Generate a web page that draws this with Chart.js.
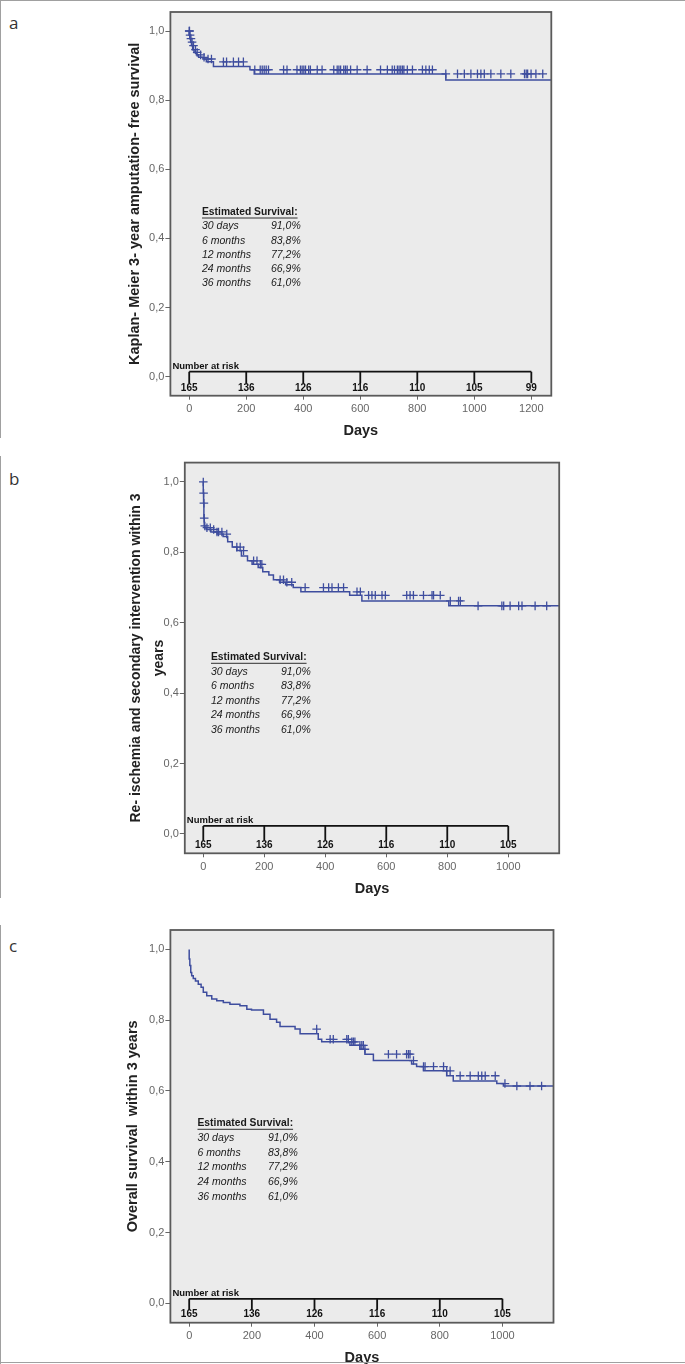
<!DOCTYPE html>
<html>
<head>
<meta charset="utf-8">
<script src="https://cdn.jsdelivr.net/npm/chart.js@4.4.1/dist/chart.umd.min.js"></script>
<style>
  body { margin:0; background:#fff; width:685px; height:1364px; position:relative; overflow:hidden; }
  canvas { position:absolute; left:0; }
  .lbl { position:absolute; left:9px; font-family:'Open Sans',sans-serif; font-size:17px; line-height:20px; color:#333; }
  .bl { position:absolute; background:#a0a0a0; z-index:5; }
</style>
</head>
<body>
<div class="bl" style="left:0;top:0;width:685px;height:1px"></div>
<div class="bl" style="left:0;top:0;width:1px;height:438px"></div>
<div class="bl" style="left:0;top:456px;width:1px;height:442px"></div>
<div class="bl" style="left:0;top:925px;width:1px;height:439px"></div>
<div class="bl" style="left:0;top:1362px;width:685px;height:1px"></div>
<div class="lbl" style="top:13px">a</div>
<div class="lbl" style="top:469px">b</div>
<div class="lbl" style="top:936px">c</div>
<canvas id="chartA"></canvas>
<canvas id="chartB"></canvas>
<canvas id="chartC"></canvas>
<script>
// panel a: amputation-free survival
const aDays = [0, 2, 5, 8, 12, 17, 25, 33, 48, 60, 85, 213, 228, 900, 1262];
const aSurv = [1.0, 0.988, 0.978, 0.968, 0.958, 0.946, 0.938, 0.931, 0.924, 0.919, 0.911, 0.897, 0.888, 0.876, 0.858];
const aEnd = 1270;
const aCensor = [0, 1, 3, 6, 10, 15, 22, 28, 40, 52, 66, 78, 120, 131, 155, 173, 190, 230, 249, 256, 263, 270, 278,
  331, 343, 378, 390, 396, 402, 408, 419, 425, 449, 466, 507, 519, 525, 531, 542, 548, 554, 566, 589, 624, 671, 695,
  712, 720, 730, 736, 742, 748, 753, 765, 783, 818, 830, 842, 853, 900, 941, 965, 988, 1011, 1023, 1035, 1058, 1093,
  1128, 1176, 1182, 1187, 1199, 1216, 1240];

// panel b: re-ischemia / secondary intervention
const bDays = [0, 1, 2, 3, 5, 10, 25, 45, 65, 80, 95, 110, 125, 145, 160, 180, 195, 215, 230, 250, 270, 295, 320, 480, 520, 805, 845];
const bSurv = [1.0, 0.968, 0.94, 0.897, 0.875, 0.870, 0.865, 0.858, 0.852, 0.845, 0.830, 0.815, 0.805, 0.790, 0.776, 0.766,
  0.757, 0.745, 0.736, 0.722, 0.715, 0.708, 0.700, 0.688, 0.678, 0.662, 0.648];
const bEnd = 1167;
const bCensor = [0, 1, 2, 3, 5, 12, 23, 34, 45, 50, 61, 77, 110, 121, 132, 165, 176, 187, 192, 252, 263, 274, 290, 334,
  394, 411, 422, 443, 460, 504, 515, 542, 553, 564, 586, 597, 667, 678, 689, 722, 750, 755, 777, 810, 837, 843, 901,
  979, 985, 1006, 1034, 1045, 1088, 1126];

// panel c: overall survival
const cDays = [0, 2, 5, 8, 13, 20, 29, 38, 45, 56, 72, 88, 109, 130, 162, 184, 199, 237, 258, 279, 290, 338, 354, 412,
  423, 513, 545, 561, 588, 710, 726, 748, 822, 843, 982, 1003, 1035];
const cSurv = [1.0, 0.973, 0.955, 0.935, 0.926, 0.918, 0.911, 0.902, 0.893, 0.879, 0.869, 0.860, 0.855, 0.850, 0.845,
  0.841, 0.831, 0.829, 0.817, 0.803, 0.794, 0.782, 0.775, 0.762, 0.746, 0.739, 0.729, 0.718, 0.704, 0.686, 0.676, 0.669,
  0.657, 0.643, 0.628, 0.621, 0.614];
const cEnd = 1163;
const cCensor = [407, 450, 460, 503, 508, 519, 524, 529, 545, 551, 556, 561, 636, 662, 694, 700, 705, 716, 748, 753, 780,
  812, 822, 833, 865, 897, 923, 934, 945, 977, 1008, 1046, 1088, 1125];

const xTicksA = [0, 200, 400, 600, 800, 1000, 1200];
const xTicksBC = [0, 200, 400, 600, 800, 1000];
const yTicks = [0, 0.2, 0.4, 0.6, 0.8, 1.0];

const riskA = [165, 136, 126, 116, 110, 105, 99];
const riskB = [165, 136, 126, 116, 110, 105];
const riskC = [165, 136, 126, 116, 110, 105];

const estLabels = ["30 days", "6 months", "12 months", "24 months", "36 months"];
const estValues = ["91,0%", "83,8%", "77,2%", "66,9%", "61,0%"];

const BLUE = "#3e4d9e";
const SANS = "'Liberation Sans',Arial,sans-serif";

function survAt(days, surv, t) {
  let v = surv[0];
  for (let i = 0; i < days.length; i++) {
    if (days[i] <= t) v = surv[i];
  }
  return v;
}

const framePlugin = {
  id: "frame",
  beforeDraw(chart) {
    const a = chart.chartArea, ctx = chart.ctx;
    ctx.save();
    ctx.fillStyle = "#ebebeb";
    ctx.fillRect(a.left, a.top, a.right - a.left, a.bottom - a.top);
    ctx.restore();
  },
  afterDraw(chart, args, o) {
    const a = chart.chartArea, ctx = chart.ctx;
    const p = o.p;
    const xs = chart.scales.x, ys = chart.scales.y;
    ctx.save();
    ctx.strokeStyle = "#5a5a5a";
    ctx.lineWidth = 1.8;
    ctx.strokeRect(a.left, a.top, a.right - a.left, a.bottom - a.top);

    // number at risk
    const y0 = ys.getPixelForValue(0);
    const ly = y0 + p.riskOff;
    ctx.strokeStyle = "#111";
    ctx.lineWidth = 1.8;
    ctx.beginPath();
    ctx.moveTo(xs.getPixelForValue(p.xticks[0]), ly);
    ctx.lineTo(xs.getPixelForValue(p.xticks[p.xticks.length - 1]), ly);
    p.xticks.forEach(d => {
      const x = xs.getPixelForValue(d);
      ctx.moveTo(x, ly);
      ctx.lineTo(x, y0 + 6.5);
    });
    ctx.stroke();
    ctx.fillStyle = "#111";
    ctx.font = "bold 9.5px " + SANS;
    ctx.textBaseline = "middle";
    ctx.textAlign = "left";
    ctx.fillText("Number at risk", a.left + 2, ly - 5.5);
    ctx.font = "bold 10px " + SANS;
    ctx.textAlign = "center";
    p.xticks.forEach((d, i) => {
      ctx.fillText(String(p.risk[i]), xs.getPixelForValue(d), y0 + 11.5);
    });

    // estimated survival table
    const ex = p.est.x, ey = p.est.y - p.top;
    ctx.textAlign = "left";
    ctx.fillStyle = "#1a1a1a";
    ctx.font = "bold 10.3px " + SANS;
    const tt = "Estimated Survival:";
    ctx.fillText(tt, ex, ey);
    const w = ctx.measureText(tt).width;
    ctx.lineWidth = 0.9;
    ctx.strokeStyle = "#1a1a1a";
    ctx.beginPath();
    ctx.moveTo(ex, ey + 6);
    ctx.lineTo(ex + w, ey + 6);
    ctx.stroke();
    ctx.font = "italic 10.5px " + SANS;
    estLabels.forEach((t, i) => {
      const yy = ey + (i + 1) * p.est.dy;
      ctx.fillText(t, ex, yy);
      ctx.fillText(estValues[i], p.est.col2, yy);
    });
    ctx.restore();
  }
};

function makeChart(id, p) {
  const cv = document.getElementById(id);
  cv.width = 685;
  cv.height = p.H;
  cv.style.top = p.top + "px";
  const steps = p.days.map((d, i) => ({x: d, y: p.surv[i]}));
  steps.push({x: p.end, y: p.surv[p.surv.length - 1]});
  const cens = p.censor.map(d => ({x: d, y: survAt(p.days, p.surv, d)}));
  const xHeight = p.H - (p.area.b - p.top);
  new Chart(cv, {
    type: "line",
    data: {
      datasets: [
        {data: steps, stepped: "after", borderColor: BLUE, borderWidth: 1.5, pointRadius: 0, fill: false},
        {type: "scatter", data: cens, pointStyle: "cross", pointRadius: 4.3, borderColor: BLUE, borderWidth: 1.3, showLine: false}
      ]
    },
    options: {
      responsive: false,
      animation: false,
      events: [],
      layout: {padding: {left: 0, top: p.area.t - p.top, right: 685 - p.area.r, bottom: 0}},
      plugins: {legend: {display: false}, tooltip: {enabled: false}, frame: {p: p}},
      scales: {
        x: {
          type: "linear", min: p.xmin, max: p.xmax,
          afterBuildTicks: s => { s.ticks = p.xticks.map(v => ({value: v})); },
          ticks: {color: "#666", padding: 3, maxRotation: 0, autoSkip: false,
            font: {family: SANS, size: 11}, callback: v => String(v)},
          grid: {drawOnChartArea: false, tickLength: 4, color: "#666"},
          border: {display: false},
          title: {display: true, text: "Days", color: "#222", padding: 0,
            font: {family: SANS, size: 14.5, weight: "bold", lineHeight: 1.3}},
          afterFit: s => { s.height = xHeight; }
        },
        y: {
          min: -0.055, max: 1.055,
          afterBuildTicks: s => { s.ticks = yTicks.map(v => ({value: v})); },
          ticks: {color: "#666", padding: 1, autoSkip: false,
            font: {family: SANS, size: 11},
            callback: v => v.toFixed(1).replace(".", ",")},
          grid: {drawOnChartArea: false, tickLength: 5, color: "#666"},
          border: {display: false},
          title: {display: true, text: p.ytitle, color: "#222", padding: {top: p.ytx - p.ysz * 0.62, bottom: 0},
            font: {family: SANS, size: p.ysz, weight: "bold", lineHeight: p.ylh}},
          afterFit: s => { s.width = p.area.l; }
        }
      }
    },
    plugins: [framePlugin]
  });
}

makeChart("chartA", {
  top: 0, H: 440, area: {l: 170.4, r: 551.3, t: 12, b: 395.7},
  xmin: -66, xmax: 1270, xticks: xTicksA, days: aDays, surv: aSurv, end: aEnd, censor: aCensor,
  ytitle: "Kaplan- Meier 3- year amputation- free survival", ytx: 135, ysz: 14.5, ylh: 1.24,
  risk: riskA, riskOff: -5,
  est: {x: 202, y: 212, col2: 271, dy: 14.3}
});
makeChart("chartB", {
  top: 455, H: 443, area: {l: 184.8, r: 559.2, t: 462.3, b: 853.3},
  xmin: -60.6, xmax: 1167, xticks: xTicksBC, days: bDays, surv: bSurv, end: bEnd, censor: bCensor,
  ytitle: ["Re- ischemia and secondary intervention within 3", "years"], ytx: 133, ysz: 14, ylh: 1.65,
  risk: riskB, riskOff: -8,
  est: {x: 211, y: 657.3, col2: 281, dy: 14.5}
});
makeChart("chartC", {
  top: 920, H: 447, area: {l: 170.4, r: 553.5, t: 930, b: 1322.7},
  xmin: -60, xmax: 1163, xticks: xTicksBC, days: cDays, surv: cSurv, end: cEnd, censor: cCensor,
  ytitle: "Overall survival  within 3 years", ytx: 133, ysz: 14.5, ylh: 1.24,
  risk: riskC, riskOff: -4.4,
  est: {x: 197.5, y: 1123.3, col2: 268, dy: 14.7}
});
</script>
</body>
</html>
